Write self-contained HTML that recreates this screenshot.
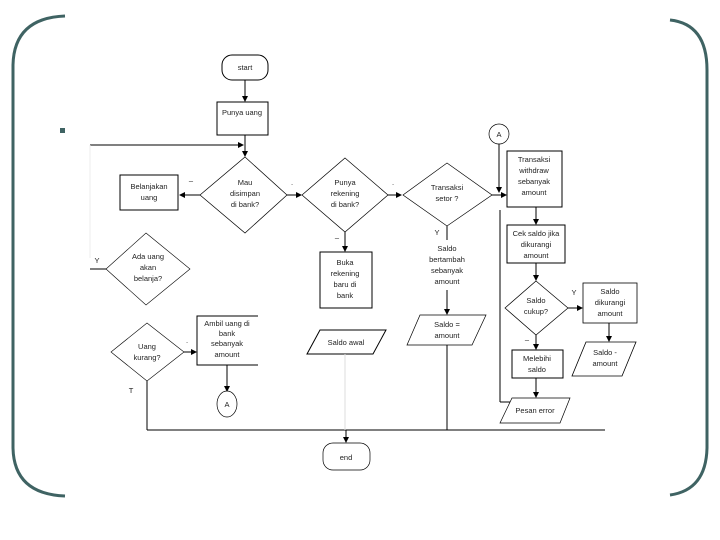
<!DOCTYPE html>
<html><head><meta charset="utf-8"><style>
html,body{margin:0;padding:0;background:#fff;}
svg{display:block;}
text{font-family:"Liberation Sans",sans-serif;font-size:7.5px;fill:#222;text-anchor:middle;}
</style></head><body>
<svg width="720" height="540" viewBox="0 0 720 540" xmlns="http://www.w3.org/2000/svg">
<defs><marker id="a" markerWidth="6" markerHeight="6" refX="5" refY="3" orient="auto"><path d="M0,0 L6,3 L0,6z" fill="#000"/></marker></defs>
<!-- frame brackets -->
<path d="M65,16 Q14,18 13,65 L13,448 Q14,494 65,496" fill="none" stroke="#3f6363" stroke-width="3"/>
<path d="M670,20 Q707,24 707,70 L707,448 Q706,490 670,495" fill="none" stroke="#3f6363" stroke-width="3"/>
<rect x="60" y="128" width="5" height="5" fill="#3f6363"/>
<g stroke="#000" stroke-width="1" fill="none">
<!-- start -->
<rect x="222" y="55" width="46" height="25" rx="10" fill="#fff"/>
<line x1="245" y1="80" x2="245" y2="101" marker-end="url(#a)"/>
<rect x="217" y="102" width="51" height="33" fill="#fff"/>
<line x1="90" y1="145" x2="243" y2="145" marker-end="url(#a)"/>
<line x1="245" y1="135" x2="245" y2="156" marker-end="url(#a)"/>
<line x1="90" y1="145" x2="90" y2="258" stroke="#eee"/>
<!-- diamond 1 -->
<polygon points="245,157 287,195 245,233 200,195" fill="#fff" stroke-width="0.7"/>
<line x1="200" y1="195" x2="180" y2="195" marker-end="url(#a)"/>
<rect x="120" y="175" width="58" height="35" fill="#fff"/>
<line x1="287" y1="195" x2="301" y2="195" marker-end="url(#a)"/>
<!-- diamond 2 -->
<polygon points="345,158 388,195 345,232 302,195" fill="#fff" stroke-width="0.7"/>
<line x1="345" y1="232" x2="345" y2="251" marker-end="url(#a)"/>
<rect x="320" y="252" width="52" height="56" fill="#fff"/>
<line x1="388" y1="195" x2="401" y2="195" marker-end="url(#a)"/>
<!-- diamond 3 -->
<polygon points="447,163 492,195 447,226 403,195" fill="#fff" stroke-width="0.7"/>
<line x1="447" y1="226" x2="447" y2="240"/>
<line x1="447" y1="290" x2="447" y2="314" marker-end="url(#a)"/>
<polygon points="420,315 486,315 472,345 407,345" fill="#fff" stroke-width="0.7"/>
<line x1="447" y1="345" x2="447" y2="430"/>
<line x1="492" y1="195" x2="506" y2="195" marker-end="url(#a)"/>
<!-- withdraw column -->
<circle cx="499" cy="134" r="10" fill="#fff" stroke-width="0.7"/>
<line x1="499" y1="144" x2="499" y2="192" marker-end="url(#a)"/>
<rect x="507" y="151" width="55" height="56" fill="#fff"/>
<line x1="536" y1="207" x2="536" y2="224" marker-end="url(#a)"/>
<line x1="500" y1="210" x2="500" y2="402"/>
<line x1="500" y1="402" x2="512" y2="402"/>
<rect x="507" y="225" width="58" height="38" fill="#fff"/>
<line x1="536" y1="263" x2="536" y2="280" marker-end="url(#a)"/>
<polygon points="536,281 568,308 536,335 505,308" fill="#fff" stroke-width="0.7"/>
<line x1="568" y1="308" x2="582" y2="308" marker-end="url(#a)"/>
<rect x="583" y="283" width="54" height="40" fill="#fff" stroke-width="0.8"/>
<line x1="609" y1="323" x2="609" y2="341" marker-end="url(#a)"/>
<polygon points="586,342 636,342 622,376 572,376" fill="#fff" stroke-width="0.8"/>
<line x1="536" y1="335" x2="536" y2="349" marker-end="url(#a)"/>
<rect x="512" y="350" width="51" height="28" fill="#fff"/>
<line x1="536" y1="378" x2="536" y2="397" marker-end="url(#a)"/>
<polygon points="512,398 570,398 560,423 500,423" fill="#fff" stroke-width="0.7"/>
<!-- left branch -->
<polygon points="146,233 190,269 146,305 106,269" fill="#fff" stroke-width="0.6"/>
<line x1="90" y1="269" x2="106" y2="269"/>
<polygon points="147,323 184,352 147,381 111,352" fill="#fff" stroke-width="0.6"/>
<line x1="184" y1="352" x2="196" y2="352" marker-end="url(#a)"/>
<path d="M258,316 L197,316 L197,365 L258,365"/>
<line x1="227" y1="365" x2="227" y2="391" marker-end="url(#a)"/>
<ellipse cx="227" cy="404" rx="10" ry="13" fill="#fff" stroke-width="0.7"/>
<line x1="147" y1="381" x2="147" y2="430"/>
<line x1="147" y1="430" x2="605" y2="430"/>
<polygon points="320,330 386,330 373,354 307,354" fill="#fff"/>
<line x1="345" y1="354" x2="345" y2="430" stroke="#ddd"/>
<line x1="346" y1="430" x2="346" y2="442" marker-end="url(#a)"/>
<rect x="323" y="443" width="47" height="27" rx="10" fill="#fff" stroke-width="0.7"/>
</g>
<text x="245" y="70">start</text>
<text x="242" y="115">Punya uang</text>
<text x="245" y="185">Mau</text><text x="245" y="196">disimpan</text><text x="245" y="207">di bank?</text>
<text x="149" y="189">Belanjakan</text><text x="149" y="200">uang</text>
<text x="191" y="183">–</text><text x="292" y="185">.</text><text x="393" y="185">.</text>
<text x="345" y="185">Punya</text><text x="345" y="196">rekening</text><text x="345" y="207">di bank?</text>
<text x="337" y="240">–</text>
<text x="345" y="265">Buka</text><text x="345" y="276">rekening</text><text x="345" y="287">baru di</text><text x="345" y="298">bank</text>
<text x="447" y="190">Transaksi</text><text x="447" y="201">setor ?</text>
<text x="437" y="235">Y</text>
<text x="447" y="251">Saldo</text><text x="447" y="262">bertambah</text><text x="447" y="273">sebanyak</text><text x="447" y="284">amount</text>
<text x="447" y="327">Saldo =</text><text x="447" y="338">amount</text>
<text x="499" y="137">A</text>
<text x="534" y="162">Transaksi</text><text x="534" y="173">withdraw</text><text x="534" y="184">sebanyak</text><text x="534" y="195">amount</text>
<text x="536" y="236">Cek saldo jika</text><text x="536" y="247">dikurangi</text><text x="536" y="258">amount</text>
<text x="536" y="303">Saldo</text><text x="536" y="314">cukup?</text>
<text x="574" y="295">Y</text><text x="527" y="342">–</text>
<text x="610" y="294">Saldo</text><text x="610" y="305">dikurangi</text><text x="610" y="316">amount</text>
<text x="605" y="355">Saldo -</text><text x="605" y="366">amount</text>
<text x="537" y="361">Melebihi</text><text x="537" y="372">saldo</text>
<text x="535" y="413">Pesan error</text>
<text x="97" y="263">Y</text>
<text x="148" y="259">Ada uang</text><text x="148" y="270">akan</text><text x="148" y="281">belanja?</text>
<text x="147" y="349">Uang</text><text x="147" y="360">kurang?</text>
<text x="187" y="343">.</text><text x="131" y="393">T</text>
<text x="227" y="326">Ambil uang di</text><text x="227" y="336">bank</text><text x="227" y="346">sebanyak</text><text x="227" y="357">amount</text>
<text x="227" y="407">A</text>
<text x="346" y="345">Saldo awal</text>
<text x="346" y="460">end</text>
</svg>
</body></html>
